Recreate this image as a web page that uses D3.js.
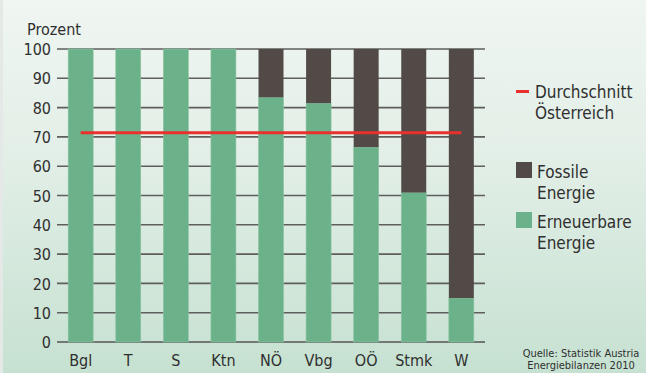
<!DOCTYPE html>
<html><head><meta charset="utf-8">
<script src="https://cdn.jsdelivr.net/npm/d3@7"></script>
<style>
html,body{margin:0;padding:0;overflow:hidden;}
svg{display:block;}
text{font-family:"Liberation Sans Narrow","DejaVu Sans Condensed","Liberation Sans",sans-serif;fill:#2f2f2f;}
</style></head>
<body><svg id="c" width="646" height="373"></svg>
<script>
const categories = ["Bgl","T","S","Ktn","NÖ","Vbg","OÖ","Stmk","W"];
const renewable = [100,100,100,100,83.5,81.5,66.5,51,15];
const fossil = renewable.map(v => 100 - v);
const average = 71.4;
const yTicks = [0,10,20,30,40,50,60,70,80,90,100];
const legendItems = [
  {type:"line", label:["Durchschnitt","Österreich"]},
  {type:"rect", key:"fossil", label:["Fossile","Energie"]},
  {type:"rect", key:"renewable", label:["Erneuerbare","Energie"]}
];
const sourceLines = ["Quelle: Statistik Austria","Energiebilanzen 2010"];
const colors = {renewable:"#6bb28a", fossil:"#524a47", avg:"#e8302c"};

const svg = d3.select("#c");
const defs = svg.append("defs");
const g = defs.append("linearGradient").attr("id","bg").attr("x1",0).attr("y1",0).attr("x2",0).attr("y2",1);
g.append("stop").attr("offset","0%").attr("stop-color","#f0f6f2");
g.append("stop").attr("offset","45%").attr("stop-color","#e1eee6");
g.append("stop").attr("offset","100%").attr("stop-color","#c6e1d1");
svg.append("rect").attr("width",646).attr("height",373).attr("fill","url(#bg)");
svg.append("rect").attr("width",3).attr("height",373).attr("fill","#e4e8e6");

const x = d3.scaleBand().domain(categories).range([57,485]).paddingInner(0.475).paddingOuter(0.235);
const y = d3.scaleLinear().domain([0,100]).range([342,49]);

// grid lines
svg.append("g").selectAll("line").data(yTicks).join("line")
  .attr("x1",57).attr("x2",485)
  .attr("y1",d=>y(d)).attr("y2",d=>y(d))
  .attr("stroke",d=>d===0?"#555":"#5e5e5e").attr("stroke-width",1.6);

// y axis labels
const yAxis = d3.axisLeft(y).tickValues(yTicks).tickSize(0).tickPadding(0);
const ya = svg.append("g").attr("transform","translate(51,0)").call(yAxis);
ya.select(".domain").remove();
ya.selectAll("text").attr("font-size",16).attr("fill","#333").attr("dy","0.35em")
  .style("font-family",'"Liberation Sans Narrow","DejaVu Sans Condensed",sans-serif');

// bars
const bars = svg.append("g");
bars.selectAll(".ren").data(categories).join("rect").attr("class","ren")
  .attr("x",d=>x(d)).attr("width",x.bandwidth())
  .attr("y",(d,i)=>y(renewable[i])).attr("height",(d,i)=>y(0)-y(renewable[i]))
  .attr("fill",colors.renewable).attr("stroke","#8cc4a3").attr("stroke-width",0.6);
bars.selectAll(".fos").data(categories).join("rect").attr("class","fos")
  .attr("x",d=>x(d)).attr("width",x.bandwidth())
  .attr("y",(d,i)=>y(100)).attr("height",(d,i)=>y(renewable[i])-y(100))
  .attr("fill",colors.fossil);

// average line
svg.append("line")
  .attr("x1",x(categories[0])+x.bandwidth()/2)
  .attr("x2",x(categories[categories.length-1])+x.bandwidth()/2)
  .attr("y1",y(average)).attr("y2",y(average))
  .attr("stroke",colors.avg).attr("stroke-width",3);

// x axis labels
const xAxis = d3.axisBottom(x).tickSize(0).tickPadding(0);
const xa = svg.append("g").attr("transform","translate(0,353)").call(xAxis);
xa.select(".domain").remove();
xa.selectAll("text").attr("font-size",16).attr("fill","#333").attr("dy","0.8em")
  .style("font-family",'"Liberation Sans Narrow","DejaVu Sans Condensed",sans-serif');

// y title
svg.append("text").attr("x",27).attr("y",35).attr("font-size",16).text("Prozent");

// legend
const lg = svg.append("g");
const legY = [98,178,228];
legendItems.forEach((it,i)=>{
  if(it.type==="line"){
    lg.append("rect").attr("x",516).attr("y",legY[i]-8).attr("width",13).attr("height",3).attr("fill",colors.avg);
  } else {
    lg.append("rect").attr("x",516).attr("y",legY[i]-16).attr("width",16).attr("height",16).attr("fill",colors[it.key]);
  }
  it.label.forEach((t,j)=>{
    lg.append("text").attr("x",it.type==="line"?535:537).attr("y",legY[i]+j*21)
      .attr("font-size",17).text(t);
  });
});

// source
svg.append("g").selectAll("text").data(sourceLines).join("text")
  .attr("x",581).attr("y",(d,i)=>357+i*12).attr("text-anchor","middle")
  .attr("font-size",11).text(d=>d);
</script></body></html>
